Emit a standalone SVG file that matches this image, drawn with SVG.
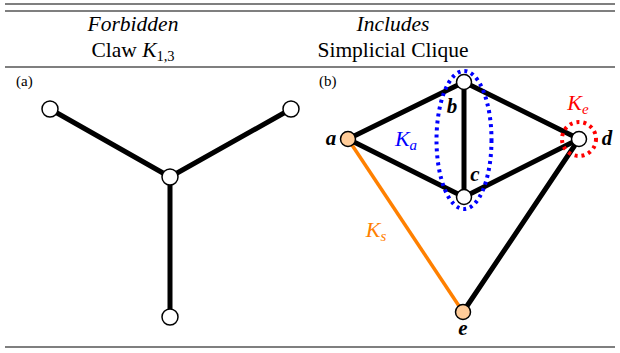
<svg xmlns="http://www.w3.org/2000/svg" width="620" height="353" viewBox="0 0 620 353">
<style>
.rule{stroke:#000;stroke-width:1.2}
text{font-family:'Liberation Serif','Times New Roman','DejaVu Serif',serif}
.hdr{font-size:21.5px;text-anchor:middle}
.it{font-style:italic}
.sub{font-size:15px}
.edge{stroke:#000;stroke-width:5;stroke-linecap:round}
.node{fill:#fff;stroke:#000;stroke-width:1.5}
.pnode{fill:#ffcc99;stroke:#000;stroke-width:1.5}
.lbl{font-size:21px;font-style:italic;font-weight:bold;text-anchor:middle}
.klbl{font-size:22px;font-style:italic;text-anchor:middle}
</style>
<rect width="620" height="353" fill="#fff"/>
<g id="table">
<line class="rule" x1="5" y1="4" x2="615" y2="4"/>
<line class="rule" x1="5" y1="11" x2="615" y2="11"/>
<line class="rule" x1="5" y1="67" x2="615" y2="67"/>
<line class="rule" x1="5" y1="347" x2="615" y2="347"/>
<text class="hdr it" x="133" y="31">Forbidden</text>
<text class="hdr" x="133" y="57">Claw <tspan font-style="italic">K</tspan><tspan font-size="14.5" dy="4">1,3</tspan></text>
<text class="hdr it" x="393" y="31">Includes</text>
<text class="hdr" x="393" y="57">Simplicial Clique</text>
<text class="sub" x="16" y="86">(a)</text>
<text class="sub" x="319" y="86">(b)</text>
</g>
<g id="connectors">
<line class="edge" x1="50" y1="109" x2="170" y2="177"/>
<line class="edge" x1="291" y1="109" x2="170" y2="177"/>
<line class="edge" x1="170" y1="177" x2="170" y2="317"/>
<line x1="348" y1="139" x2="463" y2="312" stroke="#ff8000" stroke-width="3.5"/>
<line class="edge" x1="348" y1="139" x2="464" y2="82"/>
<line class="edge" x1="348" y1="139" x2="464" y2="197"/>
<line class="edge" x1="464" y1="82" x2="464" y2="197"/>
<line class="edge" x1="464" y1="82" x2="579" y2="139"/>
<line class="edge" x1="464" y1="197" x2="579" y2="139"/>
<line class="edge" x1="579" y1="139" x2="463" y2="312"/>
</g>
<g id="claw-center"><circle class="node" cx="170" cy="177" r="8"/></g>
<g id="claw-left"><circle class="node" cx="50" cy="109" r="8"/></g>
<g id="claw-right"><circle class="node" cx="291" cy="109" r="8"/></g>
<g id="claw-bottom"><circle class="node" cx="170" cy="317" r="8"/></g>
<g id="node-a"><circle class="pnode" cx="348" cy="139" r="7.5"/><text class="lbl" x="331" y="145">a</text></g>
<g id="node-b"><circle class="node" cx="464" cy="82" r="7.5"/><text class="lbl" x="452" y="113">b</text></g>
<g id="node-c"><circle class="node" cx="464" cy="197" r="7.5"/><text class="lbl" x="475" y="181">c</text></g>
<g id="node-d"><circle class="node" cx="579" cy="139" r="7.5"/><text class="lbl" x="607" y="145">d</text></g>
<g id="node-e"><circle class="pnode" cx="463" cy="312" r="7.5"/><text class="lbl" x="463" y="335">e</text></g>
<g id="clique-Ka">
<ellipse cx="464" cy="140" rx="27.5" ry="69" fill="none" stroke="#0000ff" stroke-width="4" stroke-dasharray="3 4"/>
<text class="klbl" x="406" y="146" fill="#0000ff">K<tspan font-size="15" dy="4">a</tspan></text>
</g>
<g id="clique-Ke">
<circle cx="579" cy="139" r="17" fill="none" stroke="#ff0000" stroke-width="4" stroke-dasharray="3 4"/>
<text class="klbl" x="578" y="110" fill="#ff0000">K<tspan font-size="15" dy="4">e</tspan></text>
</g>
<g id="clique-Ks">
<text class="klbl" x="376" y="237" fill="#ff8000">K<tspan font-size="15" dy="4">s</tspan></text>
</g>
</svg>
